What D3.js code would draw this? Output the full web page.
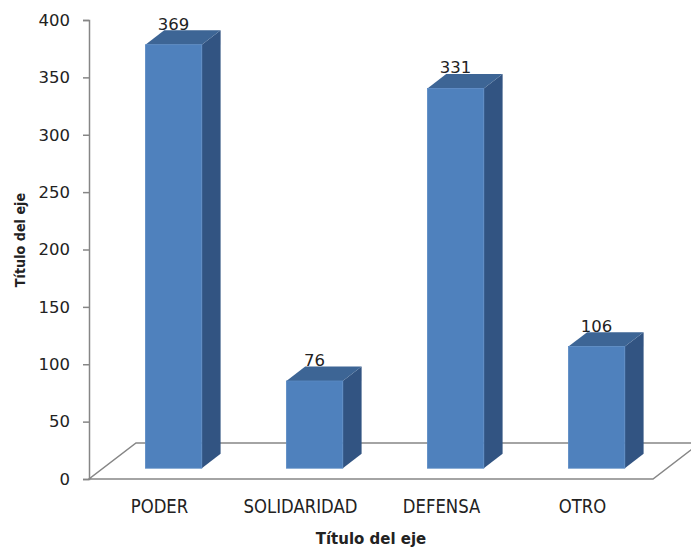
<!DOCTYPE html>
<html>
<head>
<meta charset="utf-8">
<script src="https://cdnjs.cloudflare.com/ajax/libs/d3/7.8.5/d3.min.js"></script>
<style>
  body { margin: 0; background: #fff; }
  text { font-family: "DejaVu Sans", sans-serif; fill: #222; }
</style>
</head>
<body>
<script>
var width = 691,
    height = 547;

// data
var categories = ["PODER", "SOLIDARIDAD", "DEFENSA", "OTRO"];
var values = [369, 76, 331, 106];
var yTicks = [0, 50, 100, 150, 200, 250, 300, 350, 400];
var xTitle = "Título del eje",
    yTitle = "Título del eje";

var svg = d3.select("body").append("svg")
    .attr("width", width)
    .attr("height", height);

var x = d3.scaleBand().domain(categories).range([89, 653]),
    y = d3.scaleLinear().domain([0, 400]).range([479, 20]);

// depth of the floor (3d offset)
var dx = 47, dy = -36;
var front = 0.3, back = 0.7;
var barW = x.bandwidth() * 0.4;
var axisColor = "#868686";

// floor
var y0 = y(0);
svg.append("path")
    .attr("d", "M" + x.range()[0] + "," + y0 +
      "L" + x.range()[1] + "," + y0 +
      "L" + (x.range()[1] + dx) + "," + (y0 + dy) +
      "L" + (x.range()[0] + dx) + "," + (y0 + dy) + "Z")
    .attr("fill", "none")
    .attr("stroke", axisColor)
    .attr("stroke-width", 1.5);

// y axis
var yAxis = d3.axisLeft(y).tickValues(yTicks).tickSize(6).tickPadding(13);
var ga = svg.append("g")
    .attr("transform", "translate(" + x.range()[0] + ",0)")
    .call(yAxis);
ga.select(".domain").attr("stroke", axisColor).attr("stroke-width", 1.5);
ga.selectAll(".tick line").attr("stroke", axisColor).attr("stroke-width", 1.5);
ga.selectAll(".tick text")
    .attr("font-size", 16.5)
    .attr("font-family", "DejaVu Sans, sans-serif")
    .attr("fill", "#222");

// bars
var bars = svg.append("g").selectAll("g")
    .data(categories.map(function(c, i) { return {cat: c, v: values[i]}; }))
    .enter().append("g");

function corner(d) {
  var bx = x(d.cat) + (x.bandwidth() - barW) / 2 + front * dx,
      by = y(d.v) + front * dy,
      bb = y(0) + front * dy,
      ox = (back - front) * dx,
      oy = (back - front) * dy;
  return {bx: bx, by: by, bb: bb, ox: ox, oy: oy};
}

// side face
bars.append("path")
    .attr("d", function(d) {
      var c = corner(d), r = c.bx + barW;
      return "M" + r + "," + c.by + "L" + (r + c.ox) + "," + (c.by + c.oy) +
        "L" + (r + c.ox) + "," + (c.bb + c.oy) + "L" + r + "," + c.bb + "Z";
    })
    .attr("fill", "#325482");

// top face
bars.append("path")
    .attr("d", function(d) {
      var c = corner(d), r = c.bx + barW;
      return "M" + c.bx + "," + c.by + "L" + r + "," + c.by +
        "L" + (r + c.ox) + "," + (c.by + c.oy) + "L" + (c.bx + c.ox) + "," + (c.by + c.oy) + "Z";
    })
    .attr("fill", "#3d6595");

// front face
bars.append("rect")
    .attr("x", function(d) { return corner(d).bx; })
    .attr("y", function(d) { return corner(d).by; })
    .attr("width", barW)
    .attr("height", function(d) { var c = corner(d); return c.bb - c.by; })
    .attr("fill", "#4f81bd")
    .attr("stroke", "#5a8ac4")
    .attr("stroke-width", 0.8);

// value labels
bars.append("text")
    .attr("x", function(d) { return corner(d).bx + barW / 2; })
    .attr("y", function(d) { return corner(d).by - 15; })
    .attr("text-anchor", "middle")
    .attr("font-size", 16.5)
    .text(function(d) { return d.v; });

// category labels (slightly tall glyphs, as in the original)
svg.append("g").selectAll("text")
    .data(categories)
    .enter().append("text")
    .attr("transform", function(d) {
      return "translate(" + (x(d) + x.bandwidth() / 2) + ",513) scale(1,1.15)";
    })
    .attr("text-anchor", "middle")
    .attr("font-size", 16.5)
    .text(function(d) { return d; });

// axis titles
svg.append("text")
    .attr("transform", "translate(" + ((x.range()[0] + x.range()[1]) / 2) + ",544) scale(1,1.05)")
    .attr("text-anchor", "middle")
    .attr("font-size", 15)
    .attr("font-weight", "bold")
    .text(xTitle);

svg.append("text")
    .attr("transform", "translate(25,240) rotate(-90) scale(1,1.12)")
    .attr("text-anchor", "middle")
    .attr("font-size", 12.8)
    .attr("font-weight", "bold")
    .text(yTitle);
</script>
</body>
</html>
